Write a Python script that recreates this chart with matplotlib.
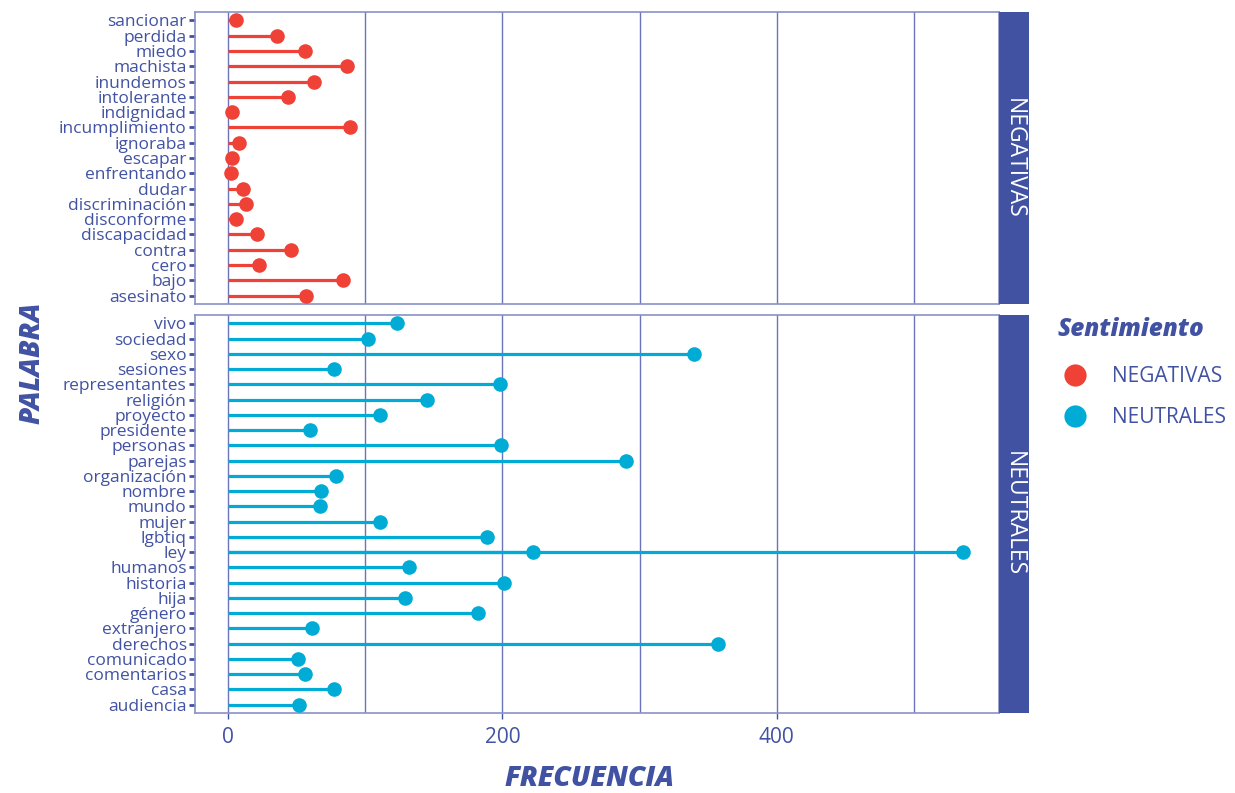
import matplotlib
matplotlib.use("Agg")
import matplotlib.pyplot as plt
from matplotlib.lines import Line2D

# datos (orden alfabetico, de abajo hacia arriba como en ggplot)
neg_palabras = ["asesinato", "bajo", "cero", "contra", "discapacidad", "disconforme",
                "discriminación", "dudar", "enfrentando", "escapar", "ignoraba",
                "incumplimiento", "indignidad", "intolerante", "inundemos", "machista",
                "miedo", "perdida", "sancionar"]
neg_freq = [57, 84, 23, 46, 21, 6, 13, 11, 2, 3, 8, 89, 3, 44, 63, 87, 56, 36, 6]

neu_palabras = ["audiencia", "casa", "comentarios", "comunicado", "derechos", "extranjero",
                "género", "hija", "historia", "humanos", "ley", "ley", "lgbtiq", "mujer",
                "mundo", "nombre", "organización", "parejas", "personas", "presidente",
                "proyecto", "religión", "representantes", "sesiones", "sexo", "sociedad",
                "vivo"]
neu_freq = [52, 77, 56, 51, 357, 61, 182, 129, 201, 132, 222, 536, 189, 111, 67, 68, 79,
            290, 199, 60, 111, 145, 198, 77, 340, 102, 123]

x_ticks = [0, 200, 400]

AZUL = "#4152a3"
ROJO = "#ef4136"
CIAN = "#00acd6"
GRID = "#6b74ba"
FUENTE = "Open Sans"

W, H = 1235, 793
fig = plt.figure(figsize=(W / 100, H / 100), dpi=100)


def panel(top, bottom, palabras, freq, color, etiqueta, con_x):
    ax = fig.add_axes([195 / W, 1 - bottom / H, (999 - 195) / W, (bottom - top) / H])
    cats = sorted(set(palabras))
    pos = [cats.index(p) for p in palabras]
    for v in [0, 100, 200, 300, 400, 500]:
        ax.axvline(v, color=GRID, lw=1.0, zorder=0)
    ax.hlines(pos, 0, freq, color=color, lw=2.3, zorder=2)
    ax.plot(freq, pos, "o", color=color, ms=10.5, mec="none", zorder=3)
    ax.set_xlim(-24, 562)
    ax.set_ylim(-0.55, len(cats) - 0.45)
    ax.set_yticks(range(len(cats)))
    ax.set_yticklabels(cats, fontsize=12.5, color=AZUL, family=FUENTE)
    ax.tick_params(axis="y", length=4, width=2, color=AZUL, pad=2)
    ax.set_xticks(x_ticks)
    if con_x:
        ax.set_xticklabels([str(t) for t in x_ticks], fontsize=15, color=AZUL, family=FUENTE)
        ax.tick_params(axis="x", length=4, width=1, color=AZUL, pad=6)
    else:
        ax.tick_params(axis="x", length=0, labelbottom=False)
    for s in ax.spines.values():
        s.set_color("#8a91c8")
        s.set_linewidth(1.2)
    # strip lateral
    st = fig.add_axes([999 / W, 1 - bottom / H, (1029 - 999) / W, (bottom - top) / H])
    st.set_facecolor(AZUL)
    st.set_xticks([])
    st.set_yticks([])
    for s in st.spines.values():
        s.set_visible(False)
    st.text(0.5, 0.5, etiqueta, rotation=-90, color="white", fontsize=16.5,
            ha="center", va="center", transform=st.transAxes, family=FUENTE)
    return ax


panel(12, 304, neg_palabras, neg_freq, ROJO, "NEGATIVAS", False)
panel(315, 713, neu_palabras, neu_freq, CIAN, "NEUTRALES", True)

fig.text(32 / W, 1 - 363 / H, "PALABRA", rotation=90, fontsize=20, fontweight="heavy",
         style="italic", color=AZUL, ha="center", va="center", family=FUENTE)
fig.text(590 / W, 1 - 779 / H, "FRECUENCIA", fontsize=20, fontweight="heavy",
         style="italic", color=AZUL, ha="center", va="center", family=FUENTE)

# leyenda
fig.text(1057 / W, 1 - 330 / H, "Sentimiento", fontsize=17.5, fontweight="heavy",
         style="italic", color=AZUL, ha="left", va="center", family=FUENTE)
handles = [Line2D([], [], marker="o", ls="none", color=ROJO, ms=16, mec="none"),
           Line2D([], [], marker="o", ls="none", color=CIAN, ms=16, mec="none")]
leg = fig.legend(handles, ["NEGATIVAS", "NEUTRALES"], loc="upper left",
                 bbox_to_anchor=(1058 / W, 1 - 366 / H), frameon=False,
                 prop={"family": FUENTE, "size": 15}, labelspacing=0.95,
                 handlelength=1.6, handletextpad=1.0, borderpad=0, borderaxespad=0)
for t in leg.get_texts():
    t.set_color(AZUL)

fig.savefig("out.png", dpi=100)
